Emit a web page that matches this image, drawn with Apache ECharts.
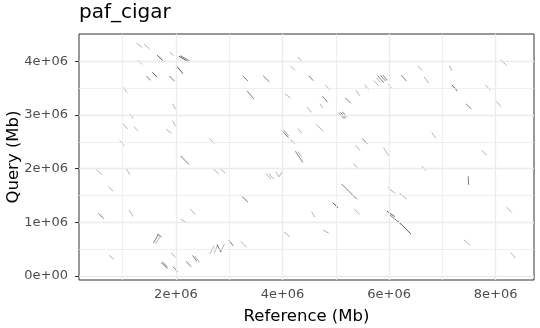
<!DOCTYPE html>
<html><head><meta charset="utf-8">
<script src="https://cdn.jsdelivr.net/npm/echarts@6/dist/echarts.min.js"></script>
<style>html,body{margin:0;padding:0;background:#fff}#c{width:540px;height:328px}</style>
</head><body><div id="c"></div>
<script>
// alignment segments, reference / query positions in Mb
const refStart = [1.259,1.400,1.648,2.056,2.085,1.888,1.284,2.019,1.560,1.447,1.878,1.006,1.931,1.132,1.006,1.207,1.931,1.818,0.944,
  4.288,4.147,3.251,3.637,3.337,4.050,3.988,4.016,4.288,4.151,4.241,4.278,2.625,4.457,4.490,4.803,4.747,4.700,5.178,5.375,5.540,
  5.047,5.085,5.122,5.713,5.788,5.835,5.882,5.760,5.981,6.229,6.538,6.656,7.129,7.181,7.807,7.444,8.010,8.094,6.800,7.738,
  4.631,5.497,5.366,5.895,2.085,0.506,1.072,0.731,1.119,0.543,2.263,2.094,1.578,1.616,1.644,0.744,1.906,1.719,1.747,1.944,
  2.193,2.310,2.356,2.688,2.825,3.688,3.744,3.875,3.932,3.238,4.025,2.638,2.713,2.769,2.835,2.988,3.213,5.328,5.107,4.944,
  4.545,5.344,4.757,5.975,6.041,6.195,5.957,6.013,6.163,6.607,7.485,8.207,7.406,8.282];
const qryStart = [4.343,4.321,4.115,4.097,4.106,4.175,4.026,3.906,3.794,3.729,3.727,3.518,3.210,3.024,2.837,2.786,2.898,2.738,2.525,
  4.082,3.919,3.733,3.733,3.447,3.397,2.712,2.725,2.749,2.538,2.324,2.324,2.563,3.149,3.733,3.559,3.350,3.210,3.322,3.466,3.565,
  3.042,3.051,3.061,3.643,3.733,3.742,3.746,3.695,3.574,3.742,3.914,3.708,3.914,3.559,3.559,3.210,3.257,4.031,2.674,2.339,
  2.824,2.563,2.436,2.389,2.240,1.991,1.991,1.667,1.232,1.170,1.250,1.058,0.616,0.597,0.784,0.386,0.435,0.252,0.261,0.174,
  0.274,0.383,0.373,2.003,2.003,1.913,1.913,1.941,1.848,1.480,0.821,0.411,0.429,0.588,0.448,0.672,0.648,2.090,1.717,1.368,
  1.194,1.256,0.859,1.652,1.596,1.543,1.208,1.138,1.027,2.053,1.857,1.282,0.672,0.435];
const refEnd = [1.368,1.507,1.756,2.244,2.263,1.950,1.363,2.131,1.644,1.522,1.972,1.081,1.995,1.194,1.095,1.293,1.995,1.920,1.031,
  4.376,4.232,3.350,3.750,3.463,4.151,4.113,4.119,4.363,4.237,4.382,4.363,2.726,4.545,4.578,4.897,4.847,4.757,5.282,5.450,5.615,
  5.160,5.188,5.207,5.807,5.900,5.938,5.966,5.844,6.056,6.322,6.622,6.744,7.185,7.282,7.907,7.545,8.094,8.207,6.881,7.837,
  4.766,5.591,5.456,5.994,2.244,0.607,1.132,0.819,1.194,0.644,2.366,2.193,1.663,1.700,1.728,0.832,1.995,1.841,1.841,2.032,
  2.281,2.394,2.441,2.801,2.925,3.781,3.838,3.932,3.997,3.350,4.138,2.713,2.788,2.844,2.910,3.075,3.326,5.422,5.394,5.044,
  4.607,5.445,4.869,6.050,6.125,6.332,6.107,6.219,6.407,6.694,7.494,8.306,7.519,8.370];
const qryEnd = [4.255,4.227,4.013,3.985,4.003,4.106,3.942,3.770,3.708,3.645,3.630,3.421,3.111,2.936,2.738,2.701,2.786,2.650,2.426,
  3.981,3.832,3.634,3.621,3.298,3.313,2.576,2.604,2.663,2.464,2.118,2.221,2.464,3.048,3.639,3.466,3.238,3.135,3.219,3.359,3.471,
  2.930,2.940,2.968,3.546,3.602,3.630,3.649,3.602,3.490,3.634,3.826,3.596,3.820,3.447,3.458,3.111,3.160,3.919,2.563,2.253,
  2.697,2.464,2.339,2.240,2.077,1.891,1.891,1.581,1.107,1.069,1.148,0.995,0.765,0.737,0.728,0.312,0.349,0.140,0.168,0.075,
  0.174,0.271,0.252,1.904,1.917,1.810,1.801,1.848,1.950,1.381,0.733,0.560,0.579,0.448,0.597,0.560,0.536,2.003,1.431,1.269,
  1.096,1.144,0.797,1.586,1.530,1.431,1.107,0.971,0.784,1.965,1.698,1.181,0.573,0.336];
// number of stacked alignments at each segment
const depth = [1,1,3,3,2,1,1,3,3,2,2,1,1,1,1,1,1,1,1,
  1,1,2,2,2,1,2,1,1,1,2,1,1,1,2,1,2,1,2,1,1,
  2,2,2,1,2,2,2,1,1,2,1,1,1,3,1,2,1,1,1,1,
  1,2,1,1,2,1,1,1,1,2,1,1,2,1,2,1,1,2,2,2,
  2,2,1,1,1,1,1,1,1,2,1,1,1,2,1,2,1,1,2,4,
  1,1,1,1,1,1,3,2,3,1,2,1,1,1];
const xTicks = [2e6, 4e6, 6e6, 8e6];
const yTicks = [0, 1e6, 2e6, 3e6, 4e6];
const xMinor = [1e6, 3e6, 5e6, 7e6];
const yMinor = [0.5e6, 1.5e6, 2.5e6, 3.5e6];
const titleText = 'paf_cigar';
const xName = 'Reference (Mb)';
const yName = 'Query (Mb)';

const fmt = v => v === 0 ? '0e+00' : (v / 1e6) + 'e+06';
const FONT = 'DejaVu Sans';
const segs = refStart.map((r, i) => ({
  coords: [[r * 1e6, qryStart[i] * 1e6], [refEnd[i] * 1e6, qryEnd[i] * 1e6]],
  lineStyle: { opacity: 1 - Math.pow(0.7, depth[i]) }
}));
const gridLines = []
  .concat(xTicks.map(v => ({ xAxis: v, lineStyle: { width: 1.3 } })))
  .concat(yTicks.map(v => ({ yAxis: v, lineStyle: { width: 1.3 } })))
  .concat(xMinor.map(v => ({ xAxis: v, lineStyle: { width: 0.8 } })))
  .concat(yMinor.map(v => ({ yAxis: v, lineStyle: { width: 0.8 } })));

const chart = echarts.init(document.getElementById('c'), null, { renderer: 'canvas' });
chart.setOption({
  animation: false,
  backgroundColor: '#fff',
  title: { text: titleText, left: 79, top: 3, padding: 0,
    textStyle: { fontFamily: FONT, fontSize: 20, fontWeight: 'normal', color: '#000' } },
  grid: { left: 79, right: 6, top: 34, bottom: 48, containLabel: false, outerBoundsMode: 'none',
    show: true, borderColor: '#333', borderWidth: 1, backgroundColor: '#fff' },
  xAxis: {
    type: 'value', min: 0.18e6, max: 8.72e6,
    name: xName, nameLocation: 'middle', nameGap: 28,
    nameTextStyle: { fontFamily: FONT, fontSize: 16.5, color: '#000' },
    axisLine: { show: false },
    axisTick: { show: true, length: 4, lineStyle: { color: '#333' }, customValues: xTicks },
    axisLabel: { customValues: xTicks, formatter: fmt, margin: 8, fontFamily: FONT, fontSize: 13, color: '#4d4d4d' },
    splitLine: { show: false }
  },
  yAxis: {
    type: 'value', min: -0.075e6, max: 4.51e6,
    name: yName, nameLocation: 'middle', nameGap: 57, nameMoveOverlap: false,
    nameTextStyle: { fontFamily: FONT, fontSize: 16.5, color: '#000' },
    axisLine: { show: false },
    axisTick: { show: true, length: 4, lineStyle: { color: '#333' }, customValues: yTicks },
    axisLabel: { customValues: yTicks, formatter: fmt, margin: 11, fontFamily: FONT, fontSize: 13, color: '#4d4d4d' },
    splitLine: { show: false }
  },
  series: [
    { type: 'line', data: [], silent: true, z: 1,
      markLine: { silent: true, symbol: ['none', 'none'], animation: false, label: { show: false },
        lineStyle: { color: '#ebebeb', type: 'solid', width: 1 }, emphasis: { disabled: true },
        data: gridLines } },
    { type: 'lines', coordinateSystem: 'cartesian2d', z: 3, silent: true,
      lineStyle: { color: '#000', width: 1, opacity: 0.3 },
      data: segs }
  ]
});
</script></body></html>
